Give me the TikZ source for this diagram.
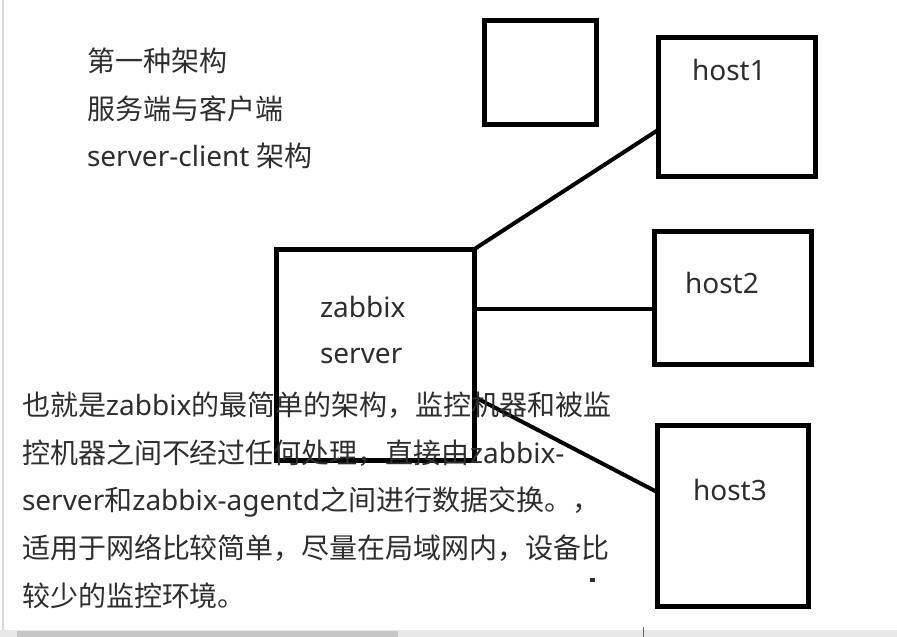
\documentclass[tikz,border=0pt]{standalone}
\usepackage{fontspec}
\setmainfont{Noto Sans}
\newfontfamily\cjk{Noto Sans CJK SC}
\usetikzlibrary{calc}
\definecolor{txt}{HTML}{2E2E2E}
\definecolor{barbg}{HTML}{E8E8E8}
\definecolor{barthumb}{HTML}{C6C6C6}
\begin{document}
\begin{tikzpicture}[x=1pt,y=-1pt,
  hostbox/.style={draw=black,line width=5pt,inner sep=0pt,outer sep=0pt},
  link/.style={draw=black,line width=4pt},
  lbl/.style={anchor=base west,inner sep=0pt,outer sep=0pt,text=txt,font=\fontsize{28}{28}\selectfont},
]
\useasboundingbox (0,0) rectangle (897,637);
\fill[white] (0,0) rectangle (897,637);

% boxes
\node[hostbox,minimum width=112pt,minimum height=104pt] (empty) at (540,72) {};
\node[hostbox,minimum width=157pt,minimum height=139pt] (host1) at (736.5,106.5) {};
\node[hostbox,minimum width=157pt,minimum height=133pt] (host2) at (732.5,297.5) {};
\node[hostbox,minimum width=151pt,minimum height=181pt] (host3) at (732.5,515.5) {};
\node[hostbox,minimum width=198pt,minimum height=211pt] (server) at (375.5,354.5) {};

% connectors
\draw[link] (server.north east) -- (host1.west |- 0,130);
\draw[link] (server.east |- 0,309) -- (host2.west |- 0,309);
\draw[link] (server.east |- 0,397) -- (host3.west |- 0,492);

% box labels
\node[lbl] (h1) at (692,80) {host1};
\node[lbl] (h2) at (685,293) {host2};
\node[lbl] (h3) at (693,500) {host3};
\node[lbl] (s1) at (320,317) {zabbix};
\node[lbl] (s2) at (320,363) {server};

% title
\node[lbl] (t1) at (87,71) {\cjk 第一种架构};
\node[lbl] (t2) at (87,119) {\cjk 服务端与客户端};
\node[lbl] (t3) at (87,166) {server-client {\cjk 架构}};

% description
\node[lbl] (d1) at (22,415) {{\cjk 也就是}zabbix{\cjk 的最简单的架构，监控机器和被监}};
\node[lbl] (d2) at (22,463) {{\cjk 控机器之间不经过任何处理，直接由}zabbix-};
\node[lbl] (d3) at (22,510) {server{\cjk 和}zabbix-agentd{\cjk 之间进行数据交换。，}};
\node[lbl] (d4) at (22,558) {{\cjk 适用于网络比较简单，尽量在局域网内，设备比}};
\node[lbl] (d5) at (22,606) {{\cjk 较少的监控环境。}};

% small stray mark
\fill[txt] (590,578) rectangle (595,582);

% window chrome: left edge and bottom scrollbar
\draw[gray!30,line width=1.5pt] (3,0) -- (3,630);
\fill[barbg] (0,630) rectangle (897,637);
\fill[barthumb] (17,631) rectangle (398,637);
\draw[gray!80!black,line width=1pt] (643,627) -- (643,637);
\end{tikzpicture}
\end{document}
